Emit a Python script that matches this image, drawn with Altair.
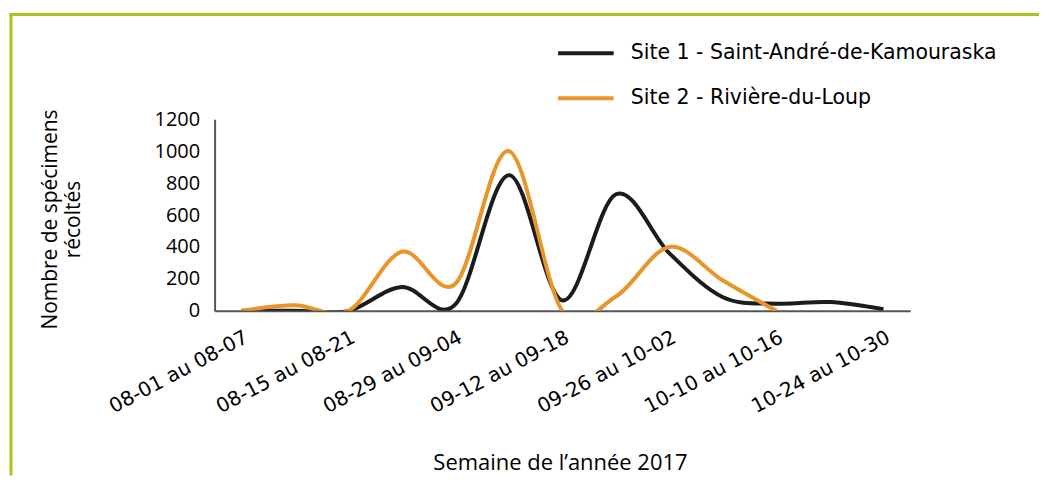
import altair as alt
import pandas as pd

weeks = [
    "08-01 au 08-07", "08-08 au 08-14", "08-15 au 08-21", "08-22 au 08-28",
    "08-29 au 09-04", "09-05 au 09-11", "09-12 au 09-18", "09-19 au 09-25",
    "09-26 au 10-02", "10-03 au 10-09", "10-10 au 10-16", "10-17 au 10-23",
    "10-24 au 10-30",
]
labeled_weeks = weeks[::2]

site1_name = "Site 1 - Saint-André-de-Kamouraska"
site2_name = "Site 2 - Rivière-du-Loup"
site1 = [0, 0, 0, 150, 40, 850, 65, 730, 360, 85, 45, 55, 10]
site2 = [0, 35, 0, 370, 170, 1000, 0, 90, 400, 190, 0, None, None]

rows = []
for w, v in zip(weeks, site1):
    rows.append({"semaine": w, "site": site1_name, "n": v})
for w, v in zip(weeks, site2):
    if v is not None:
        rows.append({"semaine": w, "site": site2_name, "n": v})
df = pd.DataFrame(rows)

lines = alt.Chart(df).mark_line(
    interpolate="cardinal", strokeWidth=4, clip=True
).encode(
    x=alt.X("semaine:N", sort=weeks, scale=alt.Scale(domain=weeks),
            axis=alt.Axis(values=labeled_weeks, labelAngle=-28, labelAlign="right",
                          labelBaseline="top", labelPadding=16,
                          labelFont="DejaVu Sans", labelFontSize=20, labelColor="#000",
                          ticks=False, domainColor="#555", domainWidth=2,
                          title="Semaine de l’année 2017", titleFont="Open Sans",
                          titleFontSize=22, titleFontWeight="normal", titleColor="#000",
                          titleX=346, titleY=152, titleBaseline="middle")),
    y=alt.Y("n:Q", scale=alt.Scale(domain=[0, 1200], nice=False),
            axis=alt.Axis(values=[0, 200, 400, 600, 800, 1000, 1200], format="d",
                          ticks=False, grid=False, domainColor="#555", domainWidth=2,
                          labelFont="Open Sans", labelFontSize=20, labelColor="#000",
                          labelPadding=15,
                          title=["Nombre de spécimens", "récoltés"], titleFont="Open Sans",
                          titleFontSize=21, titleFontWeight="normal", titleColor="#000",
                          titleLineHeight=23, titleX=-164, titleY=100,
                          titleBaseline="middle", titleAngle=270)),
    color=alt.Color("site:N",
                    scale=alt.Scale(domain=[site1_name, site2_name],
                                    range=["#1c1c1c", "#E8952C"]),
                    legend=alt.Legend(title=None, orient="none", legendX=342, legendY=-96,
                                      symbolType="stroke", symbolSize=3100,
                                      symbolStrokeWidth=4, rowPadding=4,
                                      labelFont="DejaVu Sans", labelFontSize=20.5,
                                      labelLimit=0,
                                      labelColor="#000", labelOffset=15)),
)

frame_df = pd.DataFrame({"a": [0]})
left_border = alt.Chart(frame_df).mark_rule(color="#A6C81E", strokeWidth=3).encode(
    x=alt.value(-204), y=alt.value(-105), y2=alt.value(357))
top_border = alt.Chart(frame_df).mark_rule(color="#A6C81E", strokeWidth=3).encode(
    x=alt.value(-205.5), x2=alt.value(826), y=alt.value(-105))

chart = alt.layer(left_border, top_border, lines).properties(
    width=697, height=192,
    padding={"left": 0, "top": 4, "right": 0, "bottom": 0},
).configure_view(stroke=None)

chart.save("out.html", embed_options={"renderer": "svg", "actions": False})
